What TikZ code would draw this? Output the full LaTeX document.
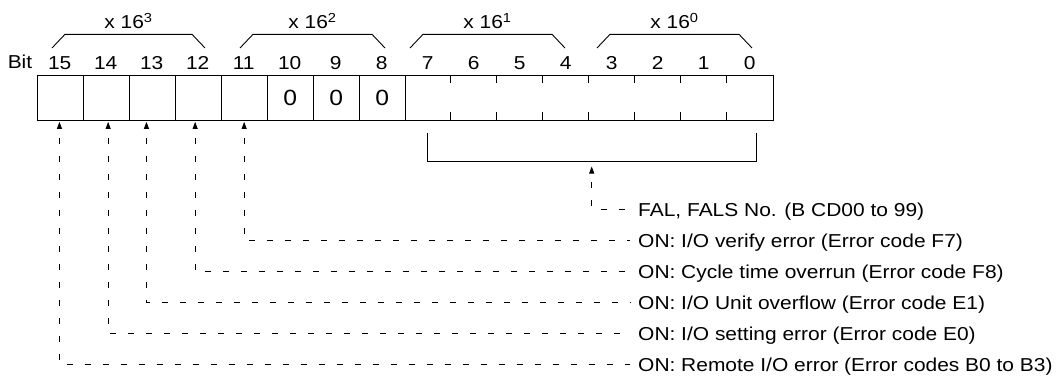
\documentclass[tikz,border=0pt]{standalone}
\usepackage{fontspec}
\setmainfont{Liberation Sans}[FakeStretch=1.12]
\usetikzlibrary{arrows.meta}

\tikzset{
  frame/.style={line width=0.9pt},
  cell/.style={frame, draw, minimum width=46pt, minimum height=45pt,
    inner sep=0pt, anchor=north west},
  bitnum/.style={anchor=base, inner sep=0pt},
  zero/.style={font=\fontsize{22}{26}\selectfont, inner sep=0pt},
  infotext/.style={anchor=west, inner xsep=8pt, inner ysep=0pt,
    text height=13.4pt, text depth=0pt},
  lead/.style={line width=0.8pt, dash pattern=on 6pt off 12pt, dash phase=9pt},
  pointer/.style={lead, {Triangle[length=7pt,width=5pt]}-},
}

\begin{document}
\begin{tikzpicture}[x=1pt, y=-1pt, font=\fontsize{18.7}{22}\selectfont]
  \useasboundingbox (0,0) rectangle (1062,376);

  % Cells for bits 15..8 (full borders)
  \foreach \i in {15,...,8}
    \node[cell] (c\i) at ({36.7+(15-\i)*46},75) {};
  \foreach \i in {10,9,8}
    \node[zero] (z\i) at (c\i) {0};

  % Bits 7..0: one box with short ticks only
  \draw[frame] (c8.north east) rectangle (773,120);
  \foreach \k in {1,...,7}
    \draw[frame] ({404.7+\k*46},75) -- ++(0,8) ({404.7+\k*46},120) -- ++(0,-8);

  % Bit numbers
  \node[bitnum] (bit) at (20,68.5) {Bit};
  \foreach \i in {15,...,0}
    \node[bitnum] (n\i) at ({59.7+(15-\i)*46},69.5) {\i};

  % Hex digit brackets
  \foreach \a/\b/\p in {52/205/3, 240/385/2, 410/565/1, 597/752/0} {
    \draw[frame] (\a,48) -- (\a+13,34.3) -- (\b-13,34.3) -- (\b,48);
    \node[bitnum] (g\p) at ({(\a+\b)/2},28.3) {x 16\textsuperscript{\p}};
  }

  % Bracket under bits 7..0
  \draw[frame] (427.7,133) |- (756.7,161.7) -- (756.7,133);
  \coordinate (fal) at (591.7,166.5);

  % Descriptions
  \node[infotext] (tfal) at (630,209.5) {FAL, FALS No. (B CD00 to 99)};
  \node[infotext] (t11) at (630,240.5) {ON: I/O verify error (Error code F7)};
  \node[infotext] (t12) at (630,271.5) {ON: Cycle time overrun (Error code F8)};
  \node[infotext] (t13) at (630,302.5) {ON: I/O Unit overflow (Error code E1)};
  \node[infotext] (t14) at (630,333.5) {ON: I/O setting error (Error code E0)};
  \node[infotext] (t15) at (630,364.5) {ON: Remote I/O error (Error codes B0 to B3)};

  % Leader lines
  \draw[pointer] (fal) |- (tfal.west);
  \foreach \i/\dx in {11/0, 12/-3, 13/-5.7, 14/2, 15/-0.7}
    \draw[pointer] ([xshift=\dx pt, yshift=-1pt]c\i.south) |- (t\i.west);
\end{tikzpicture}
\end{document}
